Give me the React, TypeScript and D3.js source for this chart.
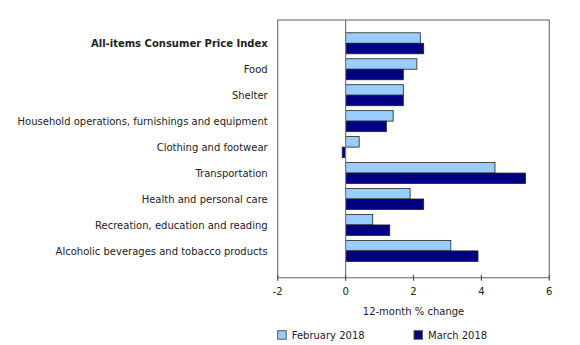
import React from "react";
import * as d3 from "d3";

const categories = [
  "All-items Consumer Price Index",
  "Food",
  "Shelter",
  "Household operations, furnishings and equipment",
  "Clothing and footwear",
  "Transportation",
  "Health and personal care",
  "Recreation, education and reading",
  "Alcoholic beverages and tobacco products",
];
const feb2018 = [2.2, 2.1, 1.7, 1.4, 0.4, 4.4, 1.9, 0.8, 3.1];
const mar2018 = [2.3, 1.7, 1.7, 1.2, -0.1, 5.3, 2.3, 1.3, 3.9];
const seriesNames = ["February 2018", "March 2018"];
const xTicks = [-2, 0, 2, 4, 6];
const xTitle = "12-month % change";

const colors = ["#99CCFF", "#000080"];
const font = "Verdana, 'DejaVu Sans', sans-serif";

export default function App() {
  const W = 580, H = 345;
  const left = 277.7, right = 549.3, top = 20, bottom = 277.7;
  const x = d3.scaleLinear().domain([-2, 6]).range([left, right]);
  const y = d3.scaleBand().domain(categories).range([18, 276.2]).paddingInner(0.19).paddingOuter(0.57);
  const inner = d3.scaleBand().domain(["0", "1"]).range([0, y.bandwidth()]);
  const series = [feb2018, mar2018];
  return (
    <svg width={W} height={H} style={{ position: "absolute", left: 0, top: 0 }} fontFamily={font}>
      <rect x={left} y={top} width={right - left} height={bottom - top} fill="none" stroke="#7a7a7a" strokeWidth={1.2} />
      {series.map((vals, si) =>
        vals.map((v, i) => {
          const x0 = x(Math.min(0, v));
          const x1 = x(Math.max(0, v));
          return (
            <rect
              key={`${si}-${i}`}
              x={x0}
              y={(y(categories[i]) as number) + (inner(String(si)) as number)}
              width={x1 - x0}
              height={inner.bandwidth()}
              fill={colors[si]}
              stroke="#222"
              strokeWidth={0.8}
            />
          );
        })
      )}
      <line x1={x(0)} x2={x(0)} y1={top} y2={bottom} stroke="#7a7a7a" strokeWidth={1.2} />
      {xTicks.map((t) => (
        <g key={t}>
          <line x1={x(t)} x2={x(t)} y1={bottom - 3} y2={bottom + 3} stroke="#555" strokeWidth={1.2} />
          <text x={x(t)} y={bottom + 14} textAnchor="middle" fontSize={10} fill="#222" dominantBaseline="middle">
            {t}
          </text>
        </g>
      ))}
      <text x={(left + right) / 2} y={311.5} textAnchor="middle" fontSize={10} fill="#222" dominantBaseline="middle">
        {xTitle}
      </text>
      {categories.map((c, i) => (
        <text
          key={c}
          x={267.7}
          y={(y(c) as number) + y.bandwidth() / 2 + 1}
          textAnchor="end"
          dominantBaseline="middle"
          fontSize={10}
          fontWeight={i === 0 ? "bold" : "normal"}
          fill="#222"
        >
          {c}
        </text>
      ))}
      {seriesNames.map((s, i) => {
        const lx = i === 0 ? 277.7 : 414;
        return (
          <g key={s}>
            <rect x={lx} y={330.7} width={8.5} height={8.5} fill={colors[i]} stroke="#555" strokeWidth={1} />
            <text x={lx + 14} y={335.5} fontSize={10} fill="#222" dominantBaseline="middle">
              {s}
            </text>
          </g>
        );
      })}
    </svg>
  );
}
